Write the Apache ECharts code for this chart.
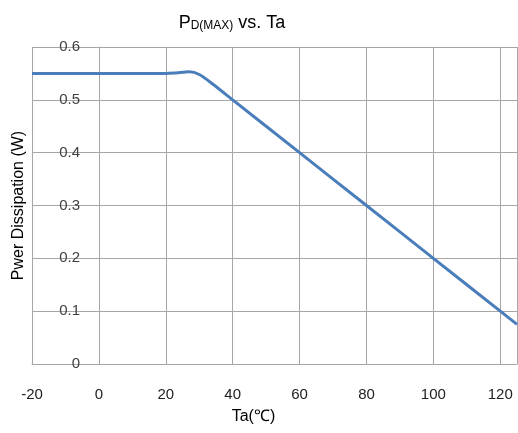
<!DOCTYPE html>
<html>
<head>
<meta charset="utf-8">
<script src="https://cdn.jsdelivr.net/npm/echarts@6/dist/echarts.min.js"></script>
<style>
    html, body { margin: 0; padding: 0; background: #fff; }
    #chartBox { width: 518px; height: 433px; }
</style>
</head>
<body>
<div id="chartBox"></div>
<script>
// 环境温度 (℃)
var taList = [-20, 0, 20, 23, 27, 30, 34, 40, 60, 80, 100, 120, 125];
// 功耗 (W)
var powerList = [0.55, 0.55, 0.55, 0.551, 0.553, 0.548, 0.53, 0.5, 0.4, 0.3, 0.2, 0.1, 0.075];
var xTicks = [-20, 0, 20, 40, 60, 80, 100, 120];
var yTicks = [0, 0.1, 0.2, 0.3, 0.4, 0.5, 0.6];

(function(){
    var _font = '"Liberation Sans", Arial, sans-serif';

    function getParams(){
        return {
            animation: false,
            title: {
                text: '{p|P}{s|D(MAX)}{p| vs. Ta}',
                left: 227,
                top: 9,
                textAlign: 'center',
                textStyle: {
                    fontWeight: 'normal',
                    rich: {
                        p: { fontSize: 18, color: '#000', fontFamily: _font, fontWeight: 'normal' },
                        s: { fontSize: 12, color: '#000', fontFamily: _font, fontWeight: 'normal', padding: [5, 0, 0, 0] }
                    }
                }
            },
            grid: {
                left: 32,
                right: 1,
                top: 47,
                bottom: 69,
                containLabel: false
            },
            xAxis: {
                type: 'value',
                min: -20,
                max: 125,
                interval: 20,
                name: 'Ta(℃)',
                nameLocation: 'middle',
                nameGap: 45,
                nameTextStyle: { fontSize: 16, color: '#000', fontFamily: _font, padding: [0, 42, 0, 0] },
                axisLine: { show: true, lineStyle: { color: '#a6a6a6', width: 1 } },
                axisTick: { show: false },
                axisLabel: {
                    margin: 23,
                    fontSize: 15,
                    color: '#222',
                    fontFamily: _font,
                    showMaxLabel: false,
                    formatter: function(v){ return xTicks.indexOf(v) >= 0 ? String(v) : ''; }
                },
                splitLine: { show: true, lineStyle: { color: '#a6a6a6', width: 1 } }
            },
            yAxis: {
                type: 'value',
                min: 0,
                max: 0.6,
                interval: 0.1,
                name: 'Pwer Dissipation (W)',
                nameLocation: 'middle',
                nameGap: 5,
                nameTextStyle: { fontSize: 16, color: '#000', fontFamily: _font },
                axisLine: { show: true, lineStyle: { color: '#a6a6a6', width: 1 } },
                axisTick: { show: false },
                axisLabel: {
                    margin: -48,
                    fontSize: 15,
                    color: '#404040',
                    fontFamily: _font,
                    formatter: function(v){
                        var r = Math.round(v * 10) / 10;
                        return yTicks.indexOf(r) >= 0 ? String(r) : '';
                    }
                },
                splitLine: { show: true, lineStyle: { color: '#a6a6a6', width: 1 } }
            },
            series: [
                {
                    name: 'PD(MAX)',
                    type: 'line',
                    smooth: 0.3,
                    showSymbol: false,
                    symbol: 'none',
                    lineStyle: { color: '#4a7ebb', width: 3 },
                    data: taList.map(function(t, i){ return [t, powerList[i]]; })
                }
            ]
        };
    }

    var _chart = echarts.init(document.getElementById('chartBox'));
    _chart.setOption(getParams());
})();
</script>
</body>
</html>
